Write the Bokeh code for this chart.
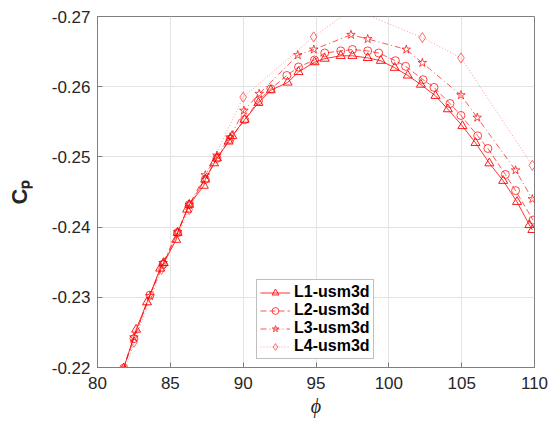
import math
from bokeh.plotting import figure
from bokeh.models import Range1d, FixedTicker, CustomJSTickFormatter, Legend
from bokeh.embed import file_html
from bokeh.resources import INLINE

# ---- data ----
l1_x = [81.8, 82.65, 83.4, 84.3, 84.55, 85.4, 85.5, 86.15, 86.3, 87.3, 87.4, 88.0, 88.2, 89.0,
        89.25, 90.1, 91.05, 91.9, 93.05, 93.8, 94.9, 95.6, 96.7, 97.5, 98.55, 99.45, 100.4,
        101.3, 102.2, 103.2, 104.05, 105.05, 105.95, 106.9, 107.85, 108.8, 109.65, 109.85]
l1_y = [-0.2199, -0.2254, -0.2293, -0.2341, -0.2349, -0.2382, -0.2392, -0.2425, -0.2432, -0.2459,
        -0.2468, -0.2491, -0.2498, -0.2522, -0.2530, -0.2553, -0.2577, -0.2595, -0.2606, -0.2621,
        -0.2635, -0.2640, -0.2644, -0.2644, -0.2641, -0.2637, -0.2627, -0.2616, -0.2603, -0.2587,
        -0.2568, -0.2544, -0.2520, -0.2491, -0.2466, -0.2436, -0.2403, -0.2396]

l2_x = [81.8, 82.5, 83.6, 84.5, 85.5, 86.3, 87.4, 88.2, 89.1, 90.1, 91.05, 91.9, 93.0, 93.8, 94.9,
        95.6, 96.7, 97.5, 98.55, 99.3, 100.45, 101.15, 102.35, 103.1, 104.2, 104.95, 106.1, 106.8,
        108.0, 108.7, 109.9]
l2_y = [-0.2199, -0.2241, -0.2303, -0.2347, -0.2392, -0.2432, -0.2468, -0.2498, -0.2525, -0.2553,
        -0.2580, -0.2597, -0.2616, -0.2628, -0.2638, -0.2648, -0.2651, -0.2653, -0.2651, -0.2648,
        -0.2637, -0.2629, -0.2610, -0.2599, -0.2576, -0.2559, -0.2530, -0.2512, -0.2475, -0.2452,
        -0.2410]

l3_x = [81.7, 82.5, 83.6, 84.5, 85.5, 86.3, 87.4, 88.2, 89.1, 90.05, 91.1, 93.75, 94.85, 97.4,
        98.55, 101.2, 102.3, 104.95, 106.07, 108.7, 109.85]
l3_y = [-0.2195, -0.2243, -0.2302, -0.2349, -0.2393, -0.2432, -0.2474, -0.2502, -0.2528, -0.2566,
        -0.2590, -0.2645, -0.2653, -0.2674, -0.2668, -0.2653, -0.2634, -0.2588, -0.2556, -0.2481,
        -0.2440]

l4_x = [81.9, 82.5, 84.4, 86.3, 90.0, 94.84, 97.5, 102.3, 104.95, 109.85]
l4_y = [-0.2195, -0.2236, -0.2340, -0.2425, -0.2585, -0.2671, -0.2711, -0.2670, -0.2641, -0.2488]

series_names = ["L1-usm3d", "L2-usm3d", "L3-usm3d", "L4-usm3d"]
x_ticks = [80, 85, 90, 95, 100, 105, 110]
y_ticks = [-0.27, -0.26, -0.25, -0.24, -0.23, -0.22]

# ---- figure ----
p = figure(width=552, height=424, output_backend="svg", toolbar_location=None,
           x_range=Range1d(80, 110), y_range=Range1d(-0.22, -0.27),
           min_border_left=97, min_border_right=18, min_border_top=16, min_border_bottom=57)
p.outline_line_color = "#7f7f7f"
p.outline_line_width = 1

for ax in (p.xaxis[0], p.yaxis[0]):
    ax.axis_line_color = "#7f7f7f"
    ax.major_tick_line_color = "#7f7f7f"
    ax.major_tick_in = 5
    ax.major_tick_out = 0
    ax.minor_tick_line_color = None
    ax.major_label_text_font = "Liberation Sans"
    ax.major_label_text_font_size = "17px"
    ax.major_label_text_color = "#262626"

p.xaxis.ticker = FixedTicker(ticks=x_ticks)
p.yaxis.ticker = FixedTicker(ticks=y_ticks)
p.yaxis.formatter = CustomJSTickFormatter(code="return tick.toFixed(2)")
p.xaxis.major_label_standoff = 9
p.yaxis.major_label_standoff = 7

p.xaxis.axis_label = "\u03d5"
p.xaxis.axis_label_text_font = "Liberation Serif"
p.xaxis.axis_label_text_font_style = "italic"
p.xaxis.axis_label_text_font_size = "20px"
p.xaxis.axis_label_text_color = "#262626"
p.xaxis.axis_label_standoff = 3

p.yaxis.axis_label = "C\u209a"
p.yaxis.axis_label_text_font = "Liberation Sans"
p.yaxis.axis_label_text_font_style = "bold"
p.yaxis.axis_label_text_font_size = "22px"
p.yaxis.axis_label_text_color = "#262626"
p.yaxis.axis_label_standoff = 17

p.xgrid.grid_line_color = "#e3e3e3"
p.ygrid.grid_line_color = "#e3e3e3"

red = "#ff0000"
styles = [
    (l1_x, l1_y, "solid", "triangle", 9, 0.9, 1.0),
    (l2_x, l2_y, "6 3", "circle", 8, 0.75, 0.8),
    (l3_x, l3_y, "6 3 1 3", "star", 9, 0.75, 0.8),
    (l4_x, l4_y, "1 2", "diamond", 10, 0.45, 0.65),
]
items = []
for (xs, ys, dash, marker, size, la, ma), name in zip(styles, series_names):
    r1 = p.line(xs, ys, line_color=red, line_width=0.9, line_dash=dash, line_alpha=la)
    r2 = p.scatter(xs, ys, marker=marker, size=size, fill_color=None, line_color=red,
                   line_alpha=ma, line_width=0.9)
    items.append((name, [r1, r2]))

legend = Legend(items=items, location=(159, 8))
legend.label_text_font = "Liberation Sans"
legend.label_text_font_style = "bold"
legend.label_text_font_size = "16px"
legend.label_text_color = "#000000"
legend.glyph_width = 30
legend.glyph_height = 17
legend.label_height = 17
legend.label_standoff = 4
legend.spacing = 0
legend.padding = 3
legend.margin = 0
legend.border_line_color = "#7f7f7f"
legend.border_line_width = 1
legend.background_fill_color = "white"
legend.background_fill_alpha = 1
p.add_layout(legend, "center")

open("out.html", "w").write(file_html(p, INLINE))
